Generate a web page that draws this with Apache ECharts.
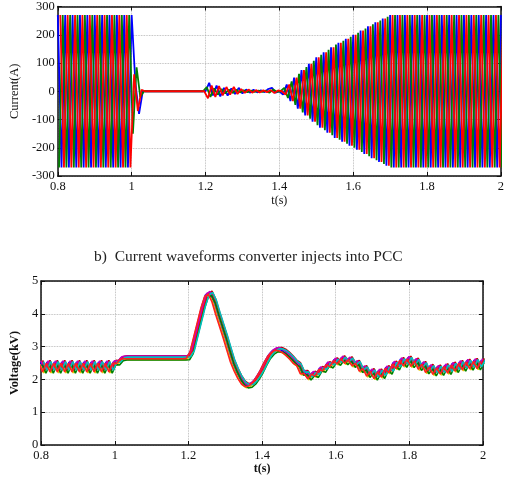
<!DOCTYPE html>
<html>
<head>
<meta charset="utf-8">
<script src="https://cdn.jsdelivr.net/npm/echarts@6/dist/echarts.min.js"></script>
<style>
  html, body { margin: 0; padding: 0; background: #fff; }
  #chart { width: 507px; height: 484px; }
</style>
</head>
<body>
<div id="chart"></div>
<script>
// sampling of the waveforms: one value every 10 ms from 0.8 s
const t0 = 0.8;
const tStep = 0.01;

// converter currents (A), value at each half-cycle peak
const phaseA = [270,-270,270,-270,270,-270,270,-270,270,-270,270,-270,270,-270,270,-270,270,-270,270,-270,270,
  30,-80,
  0,0,0,0,0,0,0,0,0,0,0,0,0,0,0,0,0,
  0,30,-15,20,-18,12,-15,10,-10,12,-8,6,-5,5,-4,3,-3,8,12,-5,
  0,-12,24,-35,48,-62,75,-86,97,-108,120,-129,138,-147,156,-165,172,-179,186,-193,200,-207,215,-222,230,-237,244,-250,257,-264,270,
  -270,270,-270,270,-270,270,-270,270,-270,270,-270,270,-270,270,-270,270,-270,270,-270,270,-270,270,-270,270,-270,270,-270,270,-270,270];
const phaseB = [270,-270,270,-270,270,-270,270,-270,270,-270,270,-270,270,-270,270,-270,270,-270,270,-270,
  60,-70,5,
  0,0,0,0,0,0,0,0,0,0,0,0,0,0,0,0,0,
  -25,20,-20,18,-15,15,-12,15,-10,8,-6,6,-5,4,-4,3,-3,4,-6,3,
  0,-12,24,-35,48,-62,75,-86,97,-108,120,-129,138,-147,156,-165,172,-179,186,-193,200,-207,215,-222,230,-237,244,-250,257,-264,270,
  -270,270,-270,270,-270,270,-270,270,-270,270,-270,270,-270,270,-270,270,-270,270,-270,270,-270,270,-270,270,-270,270,-270,270,-270,270];
const phaseC = [-270,270,-270,270,-270,270,-270,270,-270,270,-270,270,-270,270,-270,270,-270,270,-270,270,
  -150,85,-20,
  0,0,0,0,0,0,0,0,0,0,0,0,0,0,0,0,0,
  15,-20,10,-12,8,-8,6,-6,5,-4,3,-3,2,-2,2,-2,2,-5,6,-2,
  0,12,-24,35,-48,62,-75,86,-97,108,-120,129,-138,147,-156,165,-172,179,-186,193,-200,207,-215,222,-230,237,-244,250,-257,264,-270,
  270,-270,270,-270,270,-270,270,-270,270,-270,270,-270,270,-270,270,-270,270,-270,270,-270,270,-270,270,-270,270,-270,270,-270,270,-270];
const phaseNames = ['ia', 'ib', 'ic'];
const phaseColors = ['#0000ff', '#ff0000', '#008000'];
const phaseLag = [0, 0.00667, 0.00333]; // s, 120 degree shift

// PCC voltage (kV)
const voltage = [2.51,2.25,2.51,2.25,2.51,2.25,2.51,2.25,2.51,2.25,2.51,2.25,2.51,2.25,2.51,2.25,2.51,2.25,2.51,2.25,2.51,
  2.5,2.63,
  2.65,2.65,2.65,2.65,2.65,2.65,2.65,2.65,2.65,2.65,2.65,2.65,2.65,2.65,2.65,2.65,2.65,
  2.66,2.85,3.3,3.75,4.2,4.55,4.62,4.38,4.0,3.65,3.3,2.92,2.55,2.28,2.05,1.88,1.8,1.82,1.92,2.08,
  2.27,2.5,2.7,2.83,2.9,2.9,2.85,2.76,2.65,2.52,
  2.44,2.19,2.20,2.04,2.18,2.12,2.32,2.28,2.47,2.41,2.59,2.49,2.65,2.51,2.62,2.43,2.51,2.27,2.35,2.12,
  2.26,2.04,2.25,2.09,2.35,2.22,2.49,2.35,2.60,2.43,2.64,2.42,2.58,2.33,2.48,2.23,2.39,2.17,2.37,2.18,
  2.41,2.21,2.46,2.27,2.51,2.31,2.55,2.34,2.57,2.35,2.57];
const voltColors = ['#c00000', '#0000ff', '#e6c800', '#ff0000', '#bf00bf', '#008000', '#00bfbf', '#ff2020'];
const voltShift = [0.07, 0.02, -0.05, 0.04, 0.06, -0.06, 0.03, -0.02];
const voltLag = [0.004, -0.004, -0.003, 0.001, -0.001, 0.003, 0.006, -0.006];

const xTicks = { min: 0.8, max: 2, interval: 0.2 };
const currentTicks = { min: -300, max: 300, interval: 100 };
const voltTicks = { min: 0, max: 5, interval: 1 };

const serif = 'Liberation Serif';
const ink = '#111';

function boxX(grid, name, nameGap, bold) {
  return [{
    type: 'value', gridIndex: grid, position: 'bottom', ...xTicks,
    name: name, nameLocation: 'middle', nameGap: nameGap,
    nameTextStyle: { fontFamily: serif, fontSize: 12, fontWeight: bold ? 'bold' : 'normal', color: ink },
    axisLine: { onZero: false, lineStyle: { color: ink, width: 1.5 } },
    axisTick: { inside: true, length: 4, lineStyle: { color: ink } },
    axisLabel: { margin: 4, fontFamily: serif, fontSize: 12.5, color: ink, formatter: v => String(+v.toFixed(1)) },
    splitLine: { show: true, lineStyle: { type: 'dotted', color: '#aaa', width: 0.8 } }
  }, {
    type: 'value', gridIndex: grid, position: 'top', ...xTicks,
    axisLine: { onZero: false, lineStyle: { color: ink, width: 1.5 } },
    axisTick: { inside: true, length: 4, lineStyle: { color: ink } },
    axisLabel: { show: false },
    splitLine: { show: false }
  }];
}

function boxY(grid, ticks, name, nameGap, bold) {
  return [{
    type: 'value', gridIndex: grid, position: 'left', ...ticks,
    name: name, nameLocation: 'middle', nameGap: nameGap, nameRotate: 90,
    nameTextStyle: { fontFamily: serif, fontSize: 12.5, fontWeight: bold ? 'bold' : 'normal', color: ink },
    axisLine: { onZero: false, lineStyle: { color: ink, width: 1.5 } },
    axisTick: { inside: true, length: 4, lineStyle: { color: ink } },
    axisLabel: { margin: 3, fontFamily: serif, fontSize: 12.5, color: ink },
    splitLine: { show: true, lineStyle: { type: 'dotted', color: '#aaa', width: 0.8 } }
  }, {
    type: 'value', gridIndex: grid, position: 'right', ...ticks,
    axisLine: { onZero: false, lineStyle: { color: ink, width: 1.5 } },
    axisTick: { inside: true, length: 4, lineStyle: { color: ink } },
    axisLabel: { show: false },
    splitLine: { show: false }
  }];
}

const currentSeries = [phaseA, phaseB, phaseC].map((vals, p) => ({
  name: phaseNames[p],
  type: 'line',
  xAxisIndex: 0, yAxisIndex: 0,
  showSymbol: false,
  color: phaseColors[p],
  lineStyle: { width: 1.8 },
  data: vals.map((v, i) => [t0 + i * tStep + phaseLag[p], v])
}));
// red drawn on top, as in the figure
const currentOrder = [currentSeries[0], currentSeries[2], currentSeries[1]];

const voltSeries = voltColors.map((c, k) => ({
  type: 'line',
  xAxisIndex: 2, yAxisIndex: 2,
  showSymbol: false,
  color: c,
  lineStyle: { width: 1.6 },
  data: voltage.map((v, i) => [t0 + i * tStep + voltLag[k], v + voltShift[k]])
}));

const chart = echarts.init(document.getElementById('chart'));
chart.setOption({
  animation: false,
  backgroundColor: '#fff',
  title: {
    text: 'b)  Current waveforms converter injects into PCC',
    left: 89, top: 244,
    textStyle: { fontFamily: serif, fontSize: 15.5, fontWeight: 'normal', color: '#222' }
  },
  grid: [
    { left: 46, top: 5, width: 459, height: 171 },
    { left: 36, top: 281, width: 447, height: 164 }
  ],
  xAxis: [...boxX(0, 't(s)', 19, false), ...boxX(1, 't(s)', 16, true)],
  yAxis: [...boxY(0, currentTicks, 'Current(A)', 30, false), ...boxY(1, voltTicks, 'Voltage(kV)', 12, true)],
  series: [...currentOrder, ...voltSeries]
});
</script>
</body>
</html>
